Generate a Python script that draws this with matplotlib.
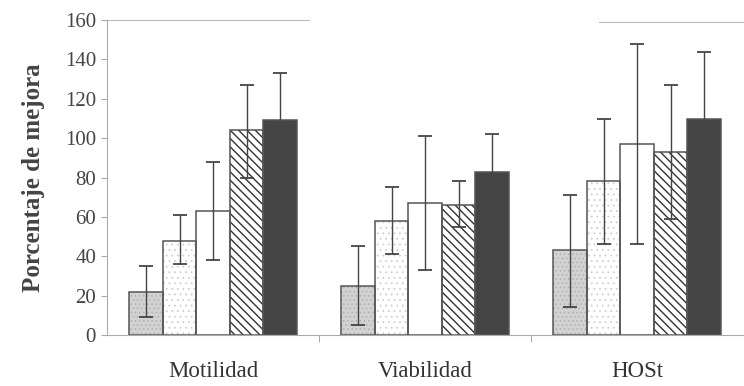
import matplotlib
matplotlib.use("Agg")
import matplotlib.pyplot as plt
import numpy as np

categories = ["Motilidad", "Viabilidad", "HOSt"]
# five treatments per category: bar means and error bar low / high ends
means = [
    [22, 48, 63, 104, 109],
    [25, 58, 67, 66, 83],
    [43, 78, 97, 93, 110],
]
err_low = [
    [9, 36, 38, 80, 85],
    [5, 41, 33, 55, 64],
    [14, 46, 46, 59, 76],
]
err_high = [
    [35, 61, 88, 127, 133],
    [45, 75, 101, 78, 102],
    [71, 110, 148, 127, 144],
]
yticks = [0, 20, 40, 60, 80, 100, 120, 140, 160]

plt.rcParams.update({
    "font.family": "serif",
    "font.serif": ["Liberation Serif", "DejaVu Serif"],
    "hatch.linewidth": 0.6,
})

# fill, hatch pattern, hatch colour
styles = [
    ("#d2d2d2", "....", "#b0b0b0"),
    ("white", "...", "#cfcfcf"),
    ("white", "", "#555555"),
    ("white", "\\\\\\\\", "#333333"),
    ("#444444", "", "#444444"),
]

fig = plt.figure(figsize=(7.44, 3.86), dpi=100)
ax = fig.add_axes([0.144, 0.132, 0.855, 0.816])

x = np.arange(len(categories))
w = 0.158
m = np.array(means)
lo = m - np.array(err_low)
hi = np.array(err_high) - m
for k in range(5):
    pos = x + (k - 2) * w
    fill, hatch, hcol = styles[k]
    plt.rcParams["hatch.linewidth"] = 1.0 if k == 3 else 0.6
    ax.bar(pos, m[:, k], width=w, color=fill, hatch=hatch, edgecolor=hcol,
           linewidth=0, zorder=2)
    ax.bar(pos, m[:, k], width=w, fill=False, edgecolor="#555555",
           linewidth=1.1, zorder=2.5)
    ax.errorbar(pos, m[:, k], yerr=[lo[:, k], hi[:, k]], fmt="none",
                ecolor="#444444", elinewidth=1.0, capsize=5, capthick=1.3, zorder=3)

ax.set_xlim(-0.5, 2.5)
ax.set_ylim(0, 160)
ax.set_yticks(yticks)
ax.set_xticks(x)
ax.set_xticklabels(categories, fontsize=16.5, color="#333333")
ax.set_xticks([0.5, 1.5], minor=True)
ax.tick_params(axis="x", which="major", length=0, pad=19)
ax.tick_params(axis="x", which="minor", length=5, color="#999999")
ax.tick_params(axis="y", labelsize=15, labelcolor="#444444", length=4,
               color="#aaaaaa", direction="out", pad=4)
ax.set_ylabel("Porcentaje de mejora", fontsize=18, fontweight="bold",
              color="#444444", labelpad=14)

for s in ["top", "right"]:
    ax.spines[s].set_visible(False)
ax.spines["left"].set_color("#aaaaaa")
ax.spines["bottom"].set_color("#aaaaaa")

# faint top lines from the scan
ax.plot([-0.5, 0.45], [160, 160], color="#bbbbbb", lw=0.8, clip_on=False)
ax.plot([1.82, 2.5], [159, 159], color="#bbbbbb", lw=0.8, clip_on=False)

fig.savefig("out.png", dpi=100)
